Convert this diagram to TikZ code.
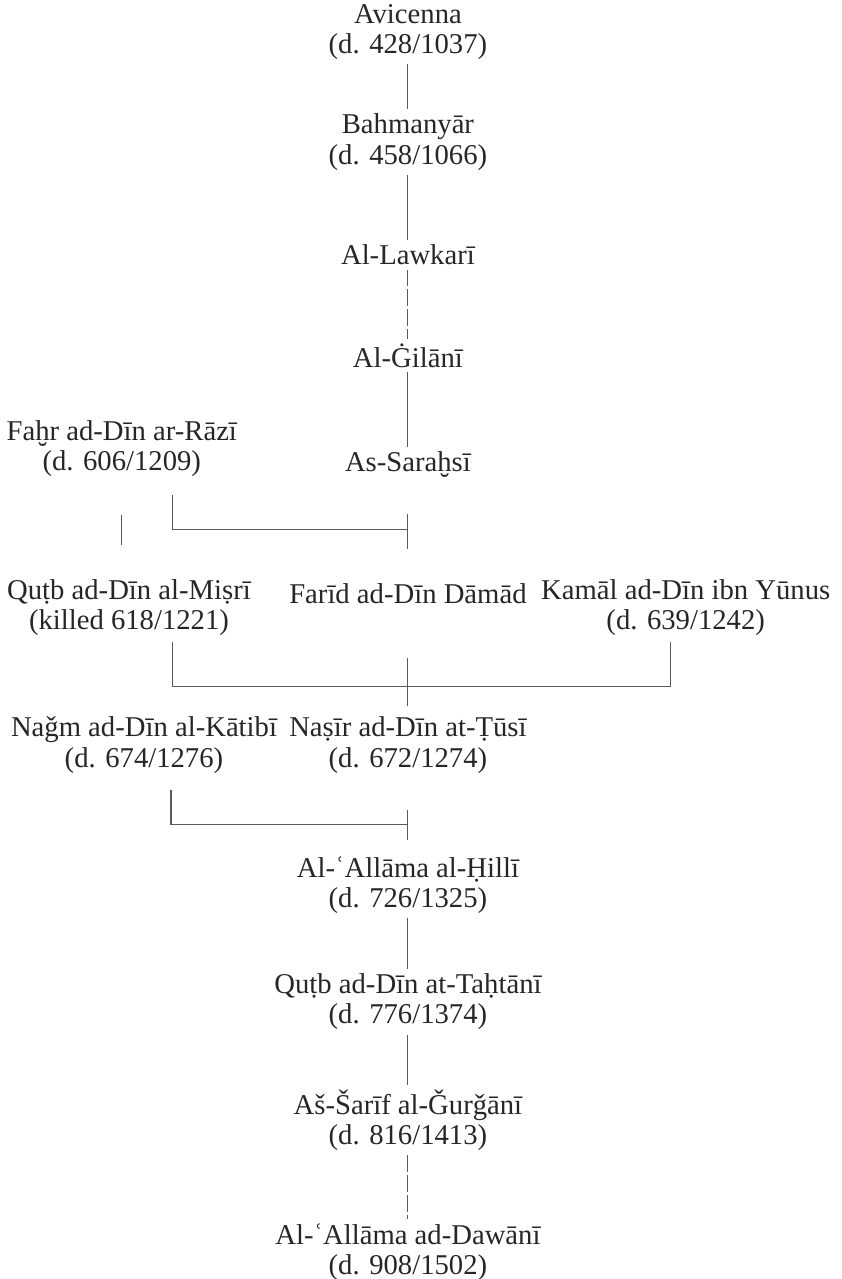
\documentclass[tikz,border=0pt]{standalone}
\usepackage{fontspec}
\setmainfont{Liberation Serif}
\tikzset{
  scholar/.style={align=center, inner sep=2pt, text=black!85, font=\fontsize{13.6}{14.4}\selectfont},
  link/.style={draw=black!65, line width=0.5pt},
  gap/.style={link, dash pattern=on 0.28cm off 0.05cm}
}
\begin{document}
\begin{tikzpicture}
\useasboundingbox (0,0) rectangle (14.03,-21.32);

% Main line from Avicenna
\node[scholar] (avicenna) at (6.8,-0.53) {Avicenna\\(d. 428/1037)};
\node[scholar] (bahmanyar) at (6.8,-2.37) {Bahmanyār\\(d. 458/1066)};
\node[scholar] (lawkari) at (6.8,-4.25) {Al-Lawkarī};
\node[scholar] (gilani) at (6.8,-5.93) {Al-Ġilānī};

% Razi and Sarahsi
\node[scholar] (razi) at (2.03,-7.48) {Faḫr ad-Dīn ar-Rāzī\\(d. 606/1209)};
\node[scholar] (sarahsi) at (6.8,-7.75) {As-Saraḫsī};

% Their students
\node[scholar] (misri) at (2.15,-10.13) {Quṭb ad-Dīn al-Miṣrī\\(killed 618/1221)};
\node[scholar] (farid) at (6.8,-9.90) {Farīd ad-Dīn Dāmād};
\node[scholar] (kamal) at (11.43,-10.13) {Kamāl ad-Dīn ibn Yūnus\\(d. 639/1242)};

% Katibi and Tusi
\node[scholar] (katibi) at (2.40,-12.42) {Naǧm ad-Dīn al-Kātibī\\(d. 674/1276)};
\node[scholar] (tusi) at (6.8,-12.42) {Naṣīr ad-Dīn at-Ṭūsī\\(d. 672/1274)};

% Later line
\node[scholar] (hilli) at (6.8,-14.75) {Al-ʿAllāma al-Ḥillī\\(d. 726/1325)};
\node[scholar] (tahtani) at (6.8,-16.70) {Quṭb ad-Dīn at-Taḥtānī\\(d. 776/1374)};
\node[scholar] (gurgani) at (6.8,-18.67) {Aš-Šarīf al-Ǧurǧānī\\(d. 816/1413)};
\node[scholar] (dawani) at (6.8,-20.87) {Al-ʿAllāma ad-Dawānī\\(d. 908/1502)};

% Links down to As-Sarahsi
\draw[link] (avicenna) -- (bahmanyar);
\draw[link] (bahmanyar) -- (lawkari);
\draw[gap] (lawkari) -- (gilani);
\draw[link] (gilani) -- (sarahsi);

% First junction
\coordinate (j1) at (6.8,-8.83);
\draw[link, shorten <=0.55cm, shorten >=0.5cm] (razi.south) -- (razi.south |- misri.north);
\draw[link, shorten <=0.22cm] ([xshift=0.84cm]razi.south) |- (j1);
\draw[link, shorten <=0.53cm, shorten >=0.5cm] (sarahsi) -- (farid);

% Second junction
\coordinate (j2) at (6.8,-11.45);
\draw[link, shorten <=0.03cm, shorten >=0.03cm] ([xshift=0.72cm]misri.south) |- (j2) -| ([xshift=-0.25cm]kamal.south);
\draw[link, shorten <=0.82cm, shorten >=0.1cm] (farid) -- (tusi);

% Third junction
\coordinate (j3) at (6.8,-13.75);
\draw[link, shorten <=0.2cm] ([xshift=0.45cm]katibi.south) |- (j3);
\draw[link, shorten <=0.53cm, shorten >=0.2cm] (tusi) -- (hilli);

% Links down to ad-Dawani
\draw[link] (hilli) -- (tahtani);
\draw[link] (tahtani) -- (gurgani);
\draw[gap] (gurgani) -- (dawani);

\end{tikzpicture}
\end{document}
